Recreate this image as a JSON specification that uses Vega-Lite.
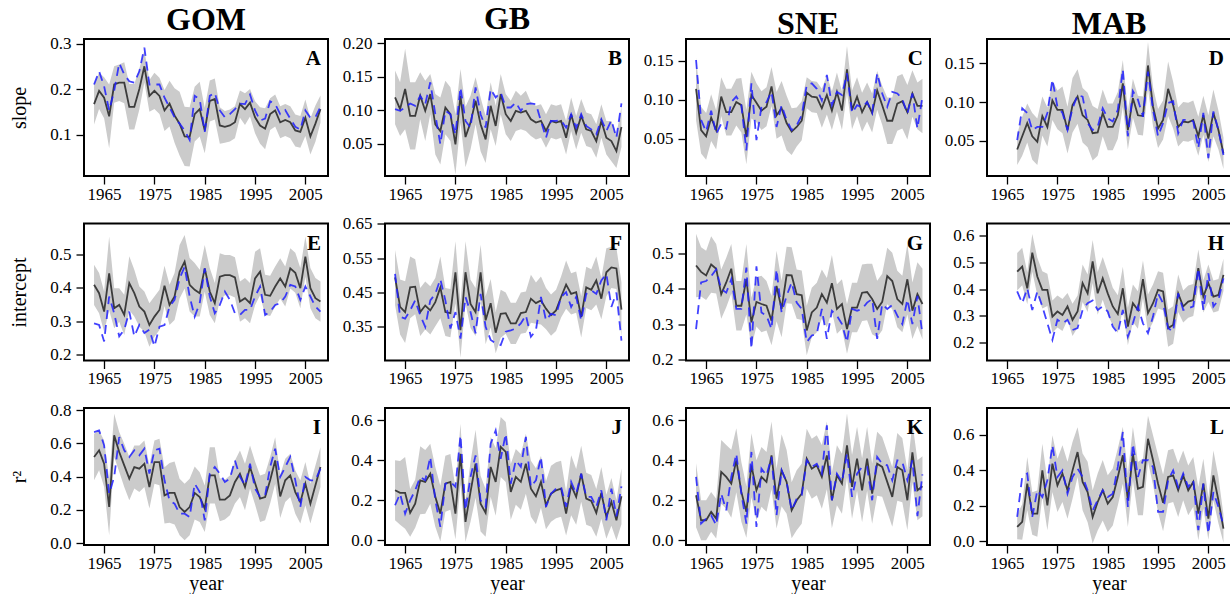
{
"$schema": "https://vega.github.io/schema/vega-lite/v6.json",
"padding": {"left": 8, "top": 2, "right": 0, "bottom": 0},
"datasets": {
"A": [
{"yr":1963,"m":0.167,"b":0.21,"e":0.045},{"yr":1964,"m":0.196,"b":0.239,"e":0.04},{"yr":1965,"m":0.181,"b":0.206,"e":0.045},{"yr":1966,"m":0.14,"b":0.153,"e":0.07},{"yr":1967,"m":0.21,"b":0.196,"e":0.04},{"yr":1968,"m":0.214,"b":0.257,"e":0.04},{"yr":1969,"m":0.214,"b":0.232,"e":0.045},{"yr":1970,"m":0.161,"b":0.217,"e":0.05},{"yr":1971,"m":0.161,"b":0.214,"e":0.05},{"yr":1972,"m":0.2,"b":0.239,"e":0.045},{"yr":1973,"m":0.25,"b":0.291,"e":0.035},{"yr":1974,"m":0.185,"b":0.21,"e":0.035},{"yr":1975,"m":0.196,"b":0.21,"e":0.04},{"yr":1976,"m":0.185,"b":0.21,"e":0.04},{"yr":1977,"m":0.153,"b":0.181,"e":0.045},{"yr":1978,"m":0.168,"b":0.16,"e":0.05},{"yr":1979,"m":0.142,"b":0.138,"e":0.06},{"yr":1980,"m":0.124,"b":0.124,"e":0.07},{"yr":1981,"m":0.096,"b":0.109,"e":0.065},{"yr":1982,"m":0.095,"b":0.088,"e":0.065},{"yr":1983,"m":0.145,"b":0.185,"e":0.06},{"yr":1984,"m":0.156,"b":0.178,"e":0.06},{"yr":1985,"m":0.109,"b":0.106,"e":0.05},{"yr":1986,"m":0.174,"b":0.185,"e":0.045},{"yr":1987,"m":0.178,"b":0.192,"e":0.045},{"yr":1988,"m":0.12,"b":0.153,"e":0.04},{"yr":1989,"m":0.117,"b":0.138,"e":0.035},{"yr":1990,"m":0.12,"b":0.145,"e":0.035},{"yr":1991,"m":0.127,"b":0.156,"e":0.035},{"yr":1992,"m":0.167,"b":0.168,"e":0.03},{"yr":1993,"m":0.156,"b":0.167,"e":0.035},{"yr":1994,"m":0.17,"b":0.188,"e":0.03},{"yr":1995,"m":0.138,"b":0.153,"e":0.035},{"yr":1996,"m":0.12,"b":0.131,"e":0.04},{"yr":1997,"m":0.113,"b":0.135,"e":0.045},{"yr":1998,"m":0.145,"b":0.173,"e":0.035},{"yr":1999,"m":0.153,"b":0.167,"e":0.035},{"yr":2000,"m":0.127,"b":0.145,"e":0.035},{"yr":2001,"m":0.132,"b":0.154,"e":0.035},{"yr":2002,"m":0.127,"b":0.135,"e":0.035},{"yr":2003,"m":0.109,"b":0.117,"e":0.035},{"yr":2004,"m":0.106,"b":0.111,"e":0.035},{"yr":2005,"m":0.137,"b":0.153,"e":0.04},{"yr":2006,"m":0.096,"b":0.137,"e":0.04},{"yr":2007,"m":0.124,"b":0.138,"e":0.04},{"yr":2008,"m":0.156,"b":0.161,"e":0.03}
],
"B": [
{"yr":1963,"m":0.119,"b":0.1015,"e":0.04},{"yr":1964,"m":0.1015,"b":0.099,"e":0.04},{"yr":1965,"m":0.1315,"b":0.104,"e":0.06},{"yr":1966,"m":0.0915,"b":0.11,"e":0.05},{"yr":1967,"m":0.0915,"b":0.1065,"e":0.05},{"yr":1968,"m":0.1215,"b":0.1215,"e":0.035},{"yr":1969,"m":0.099,"b":0.109,"e":0.045},{"yr":1970,"m":0.124,"b":0.1415,"e":0.03},{"yr":1971,"m":0.079,"b":0.094,"e":0.045},{"yr":1972,"m":0.069,"b":0.049,"e":0.05},{"yr":1973,"m":0.104,"b":0.099,"e":0.04},{"yr":1974,"m":0.094,"b":0.094,"e":0.04},{"yr":1975,"m":0.049,"b":0.064,"e":0.045},{"yr":1976,"m":0.1215,"b":0.134,"e":0.04},{"yr":1977,"m":0.06,"b":0.084,"e":0.045},{"yr":1978,"m":0.0815,"b":0.074,"e":0.04},{"yr":1979,"m":0.114,"b":0.134,"e":0.035},{"yr":1980,"m":0.079,"b":0.094,"e":0.04},{"yr":1981,"m":0.0565,"b":0.074,"e":0.035},{"yr":1982,"m":0.1065,"b":0.1315,"e":0.035},{"yr":1983,"m":0.0765,"b":0.119,"e":0.03},{"yr":1984,"m":0.124,"b":0.1265,"e":0.03},{"yr":1985,"m":0.094,"b":0.104,"e":0.03},{"yr":1986,"m":0.084,"b":0.104,"e":0.03},{"yr":1987,"m":0.099,"b":0.1115,"e":0.03},{"yr":1988,"m":0.0965,"b":0.099,"e":0.025},{"yr":1989,"m":0.099,"b":0.109,"e":0.03},{"yr":1990,"m":0.0865,"b":0.11,"e":0.025},{"yr":1991,"m":0.0815,"b":0.109,"e":0.025},{"yr":1992,"m":0.084,"b":0.084,"e":0.025},{"yr":1993,"m":0.069,"b":0.059,"e":0.025},{"yr":1994,"m":0.084,"b":0.084,"e":0.025},{"yr":1995,"m":0.0815,"b":0.084,"e":0.025},{"yr":1996,"m":0.084,"b":0.085,"e":0.025},{"yr":1997,"m":0.059,"b":0.074,"e":0.025},{"yr":1998,"m":0.094,"b":0.094,"e":0.025},{"yr":1999,"m":0.0665,"b":0.074,"e":0.025},{"yr":2000,"m":0.0915,"b":0.094,"e":0.025},{"yr":2001,"m":0.0715,"b":0.0765,"e":0.025},{"yr":2002,"m":0.069,"b":0.0715,"e":0.025},{"yr":2003,"m":0.054,"b":0.064,"e":0.025},{"yr":2004,"m":0.084,"b":0.0865,"e":0.025},{"yr":2005,"m":0.059,"b":0.069,"e":0.025},{"yr":2006,"m":0.054,"b":0.085,"e":0.03},{"yr":2007,"m":0.039,"b":0.059,"e":0.025},{"yr":2008,"m":0.075,"b":0.11,"e":0.03}
],
"C": [
{"yr":1963,"m":0.114,"b":0.151,"e":0.04},{"yr":1964,"m":0.061,"b":0.074,"e":0.03},{"yr":1965,"m":0.053,"b":0.059,"e":0.03},{"yr":1966,"m":0.077,"b":0.086,"e":0.03},{"yr":1967,"m":0.061,"b":0.056,"e":0.025},{"yr":1968,"m":0.104,"b":0.069,"e":0.025},{"yr":1969,"m":0.084,"b":0.063,"e":0.03},{"yr":1970,"m":0.084,"b":0.097,"e":0.03},{"yr":1971,"m":0.097,"b":0.104,"e":0.03},{"yr":1972,"m":0.093,"b":0.093,"e":0.035},{"yr":1973,"m":0.052,"b":0.035,"e":0.035},{"yr":1974,"m":0.106,"b":0.121,"e":0.03},{"yr":1975,"m":0.096,"b":0.048,"e":0.025},{"yr":1976,"m":0.086,"b":0.091,"e":0.025},{"yr":1977,"m":0.091,"b":0.097,"e":0.025},{"yr":1978,"m":0.117,"b":0.11,"e":0.025},{"yr":1979,"m":0.08,"b":0.065,"e":0.03},{"yr":1980,"m":0.089,"b":0.093,"e":0.035},{"yr":1981,"m":0.07,"b":0.074,"e":0.035},{"yr":1982,"m":0.059,"b":0.061,"e":0.03},{"yr":1983,"m":0.065,"b":0.067,"e":0.025},{"yr":1984,"m":0.073,"b":0.08,"e":0.025},{"yr":1985,"m":0.109,"b":0.119,"e":0.02},{"yr":1986,"m":0.104,"b":0.121,"e":0.02},{"yr":1987,"m":0.103,"b":0.114,"e":0.02},{"yr":1988,"m":0.089,"b":0.099,"e":0.025},{"yr":1989,"m":0.106,"b":0.132,"e":0.025},{"yr":1990,"m":0.086,"b":0.093,"e":0.025},{"yr":1991,"m":0.11,"b":0.11,"e":0.025},{"yr":1992,"m":0.086,"b":0.106,"e":0.025},{"yr":1993,"m":0.139,"b":0.134,"e":0.03},{"yr":1994,"m":0.087,"b":0.083,"e":0.025},{"yr":1995,"m":0.104,"b":0.093,"e":0.025},{"yr":1996,"m":0.084,"b":0.09,"e":0.025},{"yr":1997,"m":0.097,"b":0.097,"e":0.025},{"yr":1998,"m":0.083,"b":0.083,"e":0.025},{"yr":1999,"m":0.112,"b":0.134,"e":0.025},{"yr":2000,"m":0.093,"b":0.108,"e":0.025},{"yr":2001,"m":0.073,"b":0.091,"e":0.03},{"yr":2002,"m":0.073,"b":0.11,"e":0.03},{"yr":2003,"m":0.095,"b":0.108,"e":0.035},{"yr":2004,"m":0.098,"b":0.101,"e":0.035},{"yr":2005,"m":0.084,"b":0.082,"e":0.035},{"yr":2006,"m":0.108,"b":0.108,"e":0.03},{"yr":2007,"m":0.092,"b":0.063,"e":0.03},{"yr":2008,"m":0.092,"b":0.104,"e":0.035}
],
"D": [
{"yr":1967,"m":0.039,"b":0.051,"e":0.02},{"yr":1968,"m":0.056,"b":0.092,"e":0.025},{"yr":1969,"m":0.073,"b":0.086,"e":0.025},{"yr":1970,"m":0.056,"b":0.064,"e":0.03},{"yr":1971,"m":0.049,"b":0.068,"e":0.03},{"yr":1972,"m":0.082,"b":0.068,"e":0.025},{"yr":1973,"m":0.068,"b":0.086,"e":0.025},{"yr":1974,"m":0.102,"b":0.129,"e":0.025},{"yr":1975,"m":0.09,"b":0.094,"e":0.025},{"yr":1976,"m":0.09,"b":0.086,"e":0.03},{"yr":1977,"m":0.064,"b":0.064,"e":0.03},{"yr":1978,"m":0.096,"b":0.092,"e":0.035},{"yr":1979,"m":0.107,"b":0.109,"e":0.035},{"yr":1980,"m":0.083,"b":0.107,"e":0.035},{"yr":1981,"m":0.077,"b":0.073,"e":0.035},{"yr":1982,"m":0.06,"b":0.064,"e":0.035},{"yr":1983,"m":0.061,"b":0.068,"e":0.03},{"yr":1984,"m":0.086,"b":0.092,"e":0.03},{"yr":1985,"m":0.068,"b":0.079,"e":0.03},{"yr":1986,"m":0.068,"b":0.075,"e":0.03},{"yr":1987,"m":0.083,"b":0.09,"e":0.03},{"yr":1988,"m":0.124,"b":0.142,"e":0.03},{"yr":1989,"m":0.064,"b":0.056,"e":0.025},{"yr":1990,"m":0.105,"b":0.114,"e":0.025},{"yr":1991,"m":0.083,"b":0.103,"e":0.025},{"yr":1992,"m":0.082,"b":0.081,"e":0.025},{"yr":1993,"m":0.147,"b":0.139,"e":0.03},{"yr":1994,"m":0.094,"b":0.09,"e":0.025},{"yr":1995,"m":0.066,"b":0.056,"e":0.025},{"yr":1996,"m":0.077,"b":0.073,"e":0.025},{"yr":1997,"m":0.117,"b":0.099,"e":0.035},{"yr":1998,"m":0.096,"b":0.101,"e":0.03},{"yr":1999,"m":0.068,"b":0.06,"e":0.025},{"yr":2000,"m":0.075,"b":0.077,"e":0.025},{"yr":2001,"m":0.074,"b":0.077,"e":0.025},{"yr":2002,"m":0.077,"b":0.075,"e":0.025},{"yr":2003,"m":0.056,"b":0.041,"e":0.025},{"yr":2004,"m":0.083,"b":0.086,"e":0.025},{"yr":2005,"m":0.053,"b":0.028,"e":0.03},{"yr":2006,"m":0.086,"b":0.088,"e":0.03},{"yr":2007,"m":0.064,"b":0.064,"e":0.025},{"yr":2008,"m":0.034,"b":0.032,"e":0.02}
],
"E": [
{"yr":1963,"m":0.409,"b":0.294,"e":0.06},{"yr":1964,"m":0.384,"b":0.289,"e":0.06},{"yr":1965,"m":0.329,"b":0.24,"e":0.06},{"yr":1966,"m":0.443,"b":0.374,"e":0.11},{"yr":1967,"m":0.339,"b":0.324,"e":0.06},{"yr":1968,"m":0.349,"b":0.255,"e":0.05},{"yr":1969,"m":0.319,"b":0.275,"e":0.06},{"yr":1970,"m":0.414,"b":0.329,"e":0.08},{"yr":1971,"m":0.384,"b":0.255,"e":0.07},{"yr":1972,"m":0.344,"b":0.289,"e":0.06},{"yr":1973,"m":0.329,"b":0.265,"e":0.06},{"yr":1974,"m":0.289,"b":0.275,"e":0.065},{"yr":1975,"m":0.314,"b":0.225,"e":0.06},{"yr":1976,"m":0.334,"b":0.284,"e":0.06},{"yr":1977,"m":0.406,"b":0.289,"e":0.06},{"yr":1978,"m":0.349,"b":0.344,"e":0.06},{"yr":1979,"m":0.374,"b":0.364,"e":0.07},{"yr":1980,"m":0.448,"b":0.428,"e":0.08},{"yr":1981,"m":0.478,"b":0.463,"e":0.08},{"yr":1982,"m":0.409,"b":0.374,"e":0.08},{"yr":1983,"m":0.394,"b":0.314,"e":0.08},{"yr":1984,"m":0.384,"b":0.354,"e":0.07},{"yr":1985,"m":0.458,"b":0.458,"e":0.07},{"yr":1986,"m":0.389,"b":0.374,"e":0.07},{"yr":1987,"m":0.354,"b":0.324,"e":0.06},{"yr":1988,"m":0.433,"b":0.349,"e":0.07},{"yr":1989,"m":0.438,"b":0.389,"e":0.06},{"yr":1990,"m":0.438,"b":0.364,"e":0.06},{"yr":1991,"m":0.431,"b":0.324,"e":0.06},{"yr":1992,"m":0.359,"b":0.319,"e":0.06},{"yr":1993,"m":0.369,"b":0.334,"e":0.06},{"yr":1994,"m":0.354,"b":0.334,"e":0.06},{"yr":1995,"m":0.428,"b":0.374,"e":0.08},{"yr":1996,"m":0.448,"b":0.404,"e":0.07},{"yr":1997,"m":0.379,"b":0.319,"e":0.06},{"yr":1998,"m":0.376,"b":0.329,"e":0.06},{"yr":1999,"m":0.404,"b":0.349,"e":0.06},{"yr":2000,"m":0.428,"b":0.354,"e":0.06},{"yr":2001,"m":0.404,"b":0.374,"e":0.06},{"yr":2002,"m":0.458,"b":0.409,"e":0.06},{"yr":2003,"m":0.445,"b":0.404,"e":0.06},{"yr":2004,"m":0.399,"b":0.364,"e":0.06},{"yr":2005,"m":0.493,"b":0.404,"e":0.06},{"yr":2006,"m":0.399,"b":0.374,"e":0.06},{"yr":2007,"m":0.369,"b":0.344,"e":0.06},{"yr":2008,"m":0.359,"b":0.329,"e":0.06}
],
"F": [
{"yr":1963,"m":0.494,"b":0.504,"e":0.08},{"yr":1964,"m":0.408,"b":0.379,"e":0.08},{"yr":1965,"m":0.393,"b":0.374,"e":0.09},{"yr":1966,"m":0.465,"b":0.398,"e":0.09},{"yr":1967,"m":0.467,"b":0.427,"e":0.08},{"yr":1968,"m":0.393,"b":0.384,"e":0.07},{"yr":1969,"m":0.412,"b":0.35,"e":0.07},{"yr":1970,"m":0.398,"b":0.427,"e":0.07},{"yr":1971,"m":0.422,"b":0.446,"e":0.07},{"yr":1972,"m":0.465,"b":0.489,"e":0.09},{"yr":1973,"m":0.393,"b":0.427,"e":0.07},{"yr":1974,"m":0.39,"b":0.345,"e":0.07},{"yr":1975,"m":0.509,"b":0.393,"e":0.09},{"yr":1976,"m":0.34,"b":0.316,"e":0.08},{"yr":1977,"m":0.509,"b":0.437,"e":0.09},{"yr":1978,"m":0.417,"b":0.393,"e":0.07},{"yr":1979,"m":0.393,"b":0.331,"e":0.07},{"yr":1980,"m":0.509,"b":0.446,"e":0.08},{"yr":1981,"m":0.369,"b":0.35,"e":0.07},{"yr":1982,"m":0.419,"b":0.312,"e":0.07},{"yr":1983,"m":0.333,"b":0.302,"e":0.06},{"yr":1984,"m":0.388,"b":0.297,"e":0.07},{"yr":1985,"m":0.39,"b":0.336,"e":0.06},{"yr":1986,"m":0.36,"b":0.34,"e":0.06},{"yr":1987,"m":0.36,"b":0.345,"e":0.06},{"yr":1988,"m":0.39,"b":0.36,"e":0.06},{"yr":1989,"m":0.393,"b":0.384,"e":0.06},{"yr":1990,"m":0.432,"b":0.321,"e":0.07},{"yr":1991,"m":0.419,"b":0.34,"e":0.06},{"yr":1992,"m":0.427,"b":0.437,"e":0.07},{"yr":1993,"m":0.403,"b":0.369,"e":0.06},{"yr":1994,"m":0.384,"b":0.388,"e":0.06},{"yr":1995,"m":0.398,"b":0.384,"e":0.06},{"yr":1996,"m":0.437,"b":0.437,"e":0.06},{"yr":1997,"m":0.473,"b":0.451,"e":0.07},{"yr":1998,"m":0.446,"b":0.408,"e":0.06},{"yr":1999,"m":0.451,"b":0.437,"e":0.06},{"yr":2000,"m":0.379,"b":0.369,"e":0.06},{"yr":2001,"m":0.465,"b":0.446,"e":0.06},{"yr":2002,"m":0.458,"b":0.456,"e":0.06},{"yr":2003,"m":0.485,"b":0.446,"e":0.07},{"yr":2004,"m":0.432,"b":0.485,"e":0.06},{"yr":2005,"m":0.509,"b":0.504,"e":0.07},{"yr":2006,"m":0.523,"b":0.408,"e":0.06},{"yr":2007,"m":0.52,"b":0.45,"e":0.06},{"yr":2008,"m":0.4,"b":0.31,"e":0.08}
],
"G": [
{"yr":1963,"m":0.466,"b":0.286,"e":0.09},{"yr":1964,"m":0.448,"b":0.418,"e":0.07},{"yr":1965,"m":0.438,"b":0.422,"e":0.07},{"yr":1966,"m":0.469,"b":0.436,"e":0.08},{"yr":1967,"m":0.457,"b":0.455,"e":0.07},{"yr":1968,"m":0.385,"b":0.399,"e":0.07},{"yr":1969,"m":0.418,"b":0.389,"e":0.07},{"yr":1970,"m":0.457,"b":0.427,"e":0.07},{"yr":1971,"m":0.352,"b":0.343,"e":0.07},{"yr":1972,"m":0.352,"b":0.343,"e":0.07},{"yr":1973,"m":0.427,"b":0.46,"e":0.1},{"yr":1974,"m":0.305,"b":0.23,"e":0.07},{"yr":1975,"m":0.363,"b":0.464,"e":0.07},{"yr":1976,"m":0.357,"b":0.333,"e":0.08},{"yr":1977,"m":0.352,"b":0.324,"e":0.07},{"yr":1978,"m":0.31,"b":0.286,"e":0.07},{"yr":1979,"m":0.408,"b":0.455,"e":0.1},{"yr":1980,"m":0.343,"b":0.333,"e":0.08},{"yr":1981,"m":0.439,"b":0.38,"e":0.08},{"yr":1982,"m":0.438,"b":0.418,"e":0.08},{"yr":1983,"m":0.385,"b":0.361,"e":0.07},{"yr":1984,"m":0.382,"b":0.343,"e":0.07},{"yr":1985,"m":0.282,"b":0.249,"e":0.07},{"yr":1986,"m":0.333,"b":0.268,"e":0.07},{"yr":1987,"m":0.347,"b":0.272,"e":0.07},{"yr":1988,"m":0.385,"b":0.343,"e":0.07},{"yr":1989,"m":0.361,"b":0.258,"e":0.07},{"yr":1990,"m":0.416,"b":0.338,"e":0.08},{"yr":1991,"m":0.343,"b":0.324,"e":0.07},{"yr":1992,"m":0.357,"b":0.3,"e":0.07},{"yr":1993,"m":0.286,"b":0.249,"e":0.07},{"yr":1994,"m":0.347,"b":0.343,"e":0.07},{"yr":1995,"m":0.347,"b":0.338,"e":0.07},{"yr":1996,"m":0.389,"b":0.343,"e":0.08},{"yr":1997,"m":0.391,"b":0.361,"e":0.08},{"yr":1998,"m":0.371,"b":0.371,"e":0.1},{"yr":1999,"m":0.343,"b":0.258,"e":0.08},{"yr":2000,"m":0.363,"b":0.357,"e":0.08},{"yr":2001,"m":0.436,"b":0.343,"e":0.08},{"yr":2002,"m":0.422,"b":0.354,"e":0.08},{"yr":2003,"m":0.371,"b":0.324,"e":0.08},{"yr":2004,"m":0.357,"b":0.3,"e":0.08},{"yr":2005,"m":0.427,"b":0.37,"e":0.1},{"yr":2006,"m":0.338,"b":0.3,"e":0.08},{"yr":2007,"m":0.385,"b":0.38,"e":0.09},{"yr":2008,"m":0.357,"b":0.27,"e":0.1}
],
"H": [
{"yr":1967,"m":0.465,"b":0.391,"e":0.07},{"yr":1968,"m":0.484,"b":0.347,"e":0.07},{"yr":1969,"m":0.403,"b":0.403,"e":0.06},{"yr":1970,"m":0.536,"b":0.322,"e":0.07},{"yr":1971,"m":0.447,"b":0.391,"e":0.07},{"yr":1972,"m":0.397,"b":0.335,"e":0.07},{"yr":1973,"m":0.397,"b":0.272,"e":0.06},{"yr":1974,"m":0.297,"b":0.21,"e":0.06},{"yr":1975,"m":0.316,"b":0.285,"e":0.06},{"yr":1976,"m":0.303,"b":0.272,"e":0.06},{"yr":1977,"m":0.335,"b":0.285,"e":0.05},{"yr":1978,"m":0.285,"b":0.247,"e":0.06},{"yr":1979,"m":0.316,"b":0.254,"e":0.06},{"yr":1980,"m":0.422,"b":0.322,"e":0.07},{"yr":1981,"m":0.384,"b":0.347,"e":0.07},{"yr":1982,"m":0.503,"b":0.357,"e":0.08},{"yr":1983,"m":0.384,"b":0.322,"e":0.08},{"yr":1984,"m":0.44,"b":0.335,"e":0.08},{"yr":1985,"m":0.384,"b":0.316,"e":0.08},{"yr":1986,"m":0.335,"b":0.26,"e":0.07},{"yr":1987,"m":0.307,"b":0.235,"e":0.07},{"yr":1988,"m":0.403,"b":0.322,"e":0.08},{"yr":1989,"m":0.26,"b":0.222,"e":0.07},{"yr":1990,"m":0.347,"b":0.272,"e":0.07},{"yr":1991,"m":0.322,"b":0.335,"e":0.07},{"yr":1992,"m":0.437,"b":0.272,"e":0.07},{"yr":1993,"m":0.31,"b":0.235,"e":0.07},{"yr":1994,"m":0.347,"b":0.297,"e":0.07},{"yr":1995,"m":0.397,"b":0.384,"e":0.07},{"yr":1996,"m":0.391,"b":0.347,"e":0.07},{"yr":1997,"m":0.254,"b":0.254,"e":0.07},{"yr":1998,"m":0.266,"b":0.241,"e":0.07},{"yr":1999,"m":0.384,"b":0.384,"e":0.07},{"yr":2000,"m":0.335,"b":0.322,"e":0.06},{"yr":2001,"m":0.353,"b":0.328,"e":0.06},{"yr":2002,"m":0.359,"b":0.335,"e":0.06},{"yr":2003,"m":0.478,"b":0.478,"e":0.07},{"yr":2004,"m":0.372,"b":0.322,"e":0.06},{"yr":2005,"m":0.422,"b":0.459,"e":0.07},{"yr":2006,"m":0.372,"b":0.335,"e":0.06},{"yr":2007,"m":0.378,"b":0.359,"e":0.06},{"yr":2008,"m":0.453,"b":0.44,"e":0.06}
],
"I": [
{"yr":1963,"m":0.519,"b":0.669,"e":0.14},{"yr":1964,"m":0.559,"b":0.679,"e":0.12},{"yr":1965,"m":0.478,"b":0.589,"e":0.14},{"yr":1966,"m":0.217,"b":0.297,"e":0.17},{"yr":1967,"m":0.649,"b":0.398,"e":0.13},{"yr":1968,"m":0.549,"b":0.639,"e":0.12},{"yr":1969,"m":0.468,"b":0.559,"e":0.13},{"yr":1970,"m":0.388,"b":0.519,"e":0.13},{"yr":1971,"m":0.458,"b":0.559,"e":0.13},{"yr":1972,"m":0.448,"b":0.529,"e":0.14},{"yr":1973,"m":0.478,"b":0.569,"e":0.14},{"yr":1974,"m":0.338,"b":0.418,"e":0.13},{"yr":1975,"m":0.488,"b":0.559,"e":0.13},{"yr":1976,"m":0.488,"b":0.569,"e":0.14},{"yr":1977,"m":0.287,"b":0.378,"e":0.17},{"yr":1978,"m":0.302,"b":0.257,"e":0.18},{"yr":1979,"m":0.302,"b":0.237,"e":0.19},{"yr":1980,"m":0.217,"b":0.177,"e":0.17},{"yr":1981,"m":0.187,"b":0.177,"e":0.17},{"yr":1982,"m":0.217,"b":0.157,"e":0.17},{"yr":1983,"m":0.302,"b":0.358,"e":0.16},{"yr":1984,"m":0.277,"b":0.307,"e":0.15},{"yr":1985,"m":0.207,"b":0.137,"e":0.14},{"yr":1986,"m":0.408,"b":0.418,"e":0.17},{"yr":1987,"m":0.408,"b":0.458,"e":0.17},{"yr":1988,"m":0.261,"b":0.418,"e":0.13},{"yr":1989,"m":0.261,"b":0.368,"e":0.12},{"yr":1990,"m":0.287,"b":0.388,"e":0.12},{"yr":1991,"m":0.368,"b":0.498,"e":0.13},{"yr":1992,"m":0.418,"b":0.398,"e":0.14},{"yr":1993,"m":0.338,"b":0.348,"e":0.14},{"yr":1994,"m":0.458,"b":0.478,"e":0.13},{"yr":1995,"m":0.362,"b":0.328,"e":0.13},{"yr":1996,"m":0.267,"b":0.277,"e":0.14},{"yr":1997,"m":0.277,"b":0.287,"e":0.14},{"yr":1998,"m":0.378,"b":0.458,"e":0.14},{"yr":1999,"m":0.498,"b":0.569,"e":0.14},{"yr":2000,"m":0.281,"b":0.398,"e":0.13},{"yr":2001,"m":0.378,"b":0.458,"e":0.13},{"yr":2002,"m":0.408,"b":0.519,"e":0.13},{"yr":2003,"m":0.307,"b":0.378,"e":0.13},{"yr":2004,"m":0.247,"b":0.217,"e":0.13},{"yr":2005,"m":0.358,"b":0.398,"e":0.13},{"yr":2006,"m":0.237,"b":0.378,"e":0.12},{"yr":2007,"m":0.348,"b":0.378,"e":0.12},{"yr":2008,"m":0.458,"b":0.448,"e":0.12}
],
"J": [
{"yr":1963,"m":0.25,"b":0.175,"e":0.15},{"yr":1964,"m":0.237,"b":0.233,"e":0.16},{"yr":1965,"m":0.237,"b":0.133,"e":0.18},{"yr":1966,"m":0.137,"b":0.2,"e":0.12},{"yr":1967,"m":0.183,"b":0.25,"e":0.12},{"yr":1968,"m":0.3,"b":0.317,"e":0.17},{"yr":1969,"m":0.292,"b":0.3,"e":0.16},{"yr":1970,"m":0.333,"b":0.417,"e":0.15},{"yr":1971,"m":0.217,"b":0.2,"e":0.15},{"yr":1972,"m":0.133,"b":0.067,"e":0.14},{"yr":1973,"m":0.283,"b":0.283,"e":0.14},{"yr":1974,"m":0.292,"b":0.292,"e":0.14},{"yr":1975,"m":0.133,"b":0.267,"e":0.13},{"yr":1976,"m":0.433,"b":0.525,"e":0.15},{"yr":1977,"m":0.092,"b":0.15,"e":0.1},{"yr":1978,"m":0.242,"b":0.317,"e":0.15},{"yr":1979,"m":0.383,"b":0.425,"e":0.17},{"yr":1980,"m":0.183,"b":0.2,"e":0.14},{"yr":1981,"m":0.137,"b":0.167,"e":0.12},{"yr":1982,"m":0.367,"b":0.483,"e":0.15},{"yr":1983,"m":0.292,"b":0.55,"e":0.17},{"yr":1984,"m":0.467,"b":0.408,"e":0.15},{"yr":1985,"m":0.442,"b":0.533,"e":0.15},{"yr":1986,"m":0.242,"b":0.283,"e":0.14},{"yr":1987,"m":0.317,"b":0.4,"e":0.14},{"yr":1988,"m":0.292,"b":0.367,"e":0.14},{"yr":1989,"m":0.383,"b":0.517,"e":0.15},{"yr":1990,"m":0.258,"b":0.267,"e":0.14},{"yr":1991,"m":0.22,"b":0.3,"e":0.14},{"yr":1992,"m":0.292,"b":0.417,"e":0.13},{"yr":1993,"m":0.175,"b":0.167,"e":0.12},{"yr":1994,"m":0.233,"b":0.233,"e":0.14},{"yr":1995,"m":0.25,"b":0.258,"e":0.14},{"yr":1996,"m":0.258,"b":0.267,"e":0.14},{"yr":1997,"m":0.133,"b":0.167,"e":0.11},{"yr":1998,"m":0.275,"b":0.292,"e":0.15},{"yr":1999,"m":0.217,"b":0.233,"e":0.14},{"yr":2000,"m":0.333,"b":0.333,"e":0.14},{"yr":2001,"m":0.208,"b":0.217,"e":0.13},{"yr":2002,"m":0.197,"b":0.217,"e":0.13},{"yr":2003,"m":0.137,"b":0.167,"e":0.12},{"yr":2004,"m":0.237,"b":0.25,"e":0.13},{"yr":2005,"m":0.117,"b":0.1,"e":0.11},{"yr":2006,"m":0.192,"b":0.258,"e":0.12},{"yr":2007,"m":0.1,"b":0.12,"e":0.1},{"yr":2008,"m":0.22,"b":0.27,"e":0.14}
],
"K": [
{"yr":1963,"m":0.225,"b":0.317,"e":0.16},{"yr":1964,"m":0.1,"b":0.083,"e":0.1},{"yr":1965,"m":0.1,"b":0.108,"e":0.1},{"yr":1966,"m":0.142,"b":0.125,"e":0.1},{"yr":1967,"m":0.108,"b":0.075,"e":0.1},{"yr":1968,"m":0.342,"b":0.233,"e":0.16},{"yr":1969,"m":0.317,"b":0.15,"e":0.16},{"yr":1970,"m":0.283,"b":0.317,"e":0.17},{"yr":1971,"m":0.4,"b":0.433,"e":0.16},{"yr":1972,"m":0.242,"b":0.233,"e":0.15},{"yr":1973,"m":0.142,"b":0.083,"e":0.13},{"yr":1974,"m":0.375,"b":0.442,"e":0.16},{"yr":1975,"m":0.25,"b":0.067,"e":0.15},{"yr":1976,"m":0.317,"b":0.358,"e":0.15},{"yr":1977,"m":0.292,"b":0.325,"e":0.15},{"yr":1978,"m":0.425,"b":0.417,"e":0.17},{"yr":1979,"m":0.208,"b":0.125,"e":0.15},{"yr":1980,"m":0.35,"b":0.35,"e":0.18},{"yr":1981,"m":0.292,"b":0.292,"e":0.16},{"yr":1982,"m":0.15,"b":0.15,"e":0.14},{"yr":1983,"m":0.2,"b":0.208,"e":0.15},{"yr":1984,"m":0.233,"b":0.225,"e":0.15},{"yr":1985,"m":0.408,"b":0.4,"e":0.15},{"yr":1986,"m":0.358,"b":0.367,"e":0.15},{"yr":1987,"m":0.375,"b":0.383,"e":0.15},{"yr":1988,"m":0.317,"b":0.333,"e":0.16},{"yr":1989,"m":0.425,"b":0.575,"e":0.17},{"yr":1990,"m":0.2,"b":0.2,"e":0.14},{"yr":1991,"m":0.325,"b":0.333,"e":0.15},{"yr":1992,"m":0.283,"b":0.292,"e":0.15},{"yr":1993,"m":0.475,"b":0.433,"e":0.16},{"yr":1994,"m":0.267,"b":0.217,"e":0.16},{"yr":1995,"m":0.408,"b":0.333,"e":0.16},{"yr":1996,"m":0.25,"b":0.367,"e":0.16},{"yr":1997,"m":0.408,"b":0.367,"e":0.16},{"yr":1998,"m":0.233,"b":0.2,"e":0.15},{"yr":1999,"m":0.383,"b":0.417,"e":0.16},{"yr":2000,"m":0.367,"b":0.383,"e":0.15},{"yr":2001,"m":0.292,"b":0.375,"e":0.15},{"yr":2002,"m":0.217,"b":0.3,"e":0.15},{"yr":2003,"m":0.367,"b":0.4,"e":0.17},{"yr":2004,"m":0.35,"b":0.392,"e":0.16},{"yr":2005,"m":0.2,"b":0.3,"e":0.15},{"yr":2006,"m":0.44,"b":0.4,"e":0.15},{"yr":2007,"m":0.25,"b":0.12,"e":0.15},{"yr":2008,"m":0.27,"b":0.33,"e":0.15}
],
"L": [
{"yr":1967,"m":0.081,"b":0.137,"e":0.07},{"yr":1968,"m":0.109,"b":0.362,"e":0.1},{"yr":1969,"m":0.324,"b":0.381,"e":0.15},{"yr":1970,"m":0.156,"b":0.137,"e":0.12},{"yr":1971,"m":0.156,"b":0.287,"e":0.13},{"yr":1972,"m":0.399,"b":0.249,"e":0.15},{"yr":1973,"m":0.202,"b":0.343,"e":0.14},{"yr":1974,"m":0.437,"b":0.54,"e":0.16},{"yr":1975,"m":0.315,"b":0.362,"e":0.15},{"yr":1976,"m":0.381,"b":0.399,"e":0.16},{"yr":1977,"m":0.287,"b":0.268,"e":0.16},{"yr":1978,"m":0.399,"b":0.362,"e":0.16},{"yr":1979,"m":0.502,"b":0.409,"e":0.14},{"yr":1980,"m":0.334,"b":0.362,"e":0.16},{"yr":1981,"m":0.277,"b":0.287,"e":0.17},{"yr":1982,"m":0.137,"b":0.174,"e":0.15},{"yr":1983,"m":0.221,"b":0.231,"e":0.16},{"yr":1984,"m":0.287,"b":0.287,"e":0.17},{"yr":1985,"m":0.212,"b":0.249,"e":0.16},{"yr":1986,"m":0.249,"b":0.268,"e":0.16},{"yr":1987,"m":0.362,"b":0.418,"e":0.16},{"yr":1988,"m":0.484,"b":0.615,"e":0.16},{"yr":1989,"m":0.231,"b":0.193,"e":0.15},{"yr":1990,"m":0.493,"b":0.549,"e":0.15},{"yr":1991,"m":0.296,"b":0.362,"e":0.15},{"yr":1992,"m":0.306,"b":0.456,"e":0.16},{"yr":1993,"m":0.577,"b":0.456,"e":0.13},{"yr":1994,"m":0.456,"b":0.418,"e":0.14},{"yr":1995,"m":0.324,"b":0.165,"e":0.16},{"yr":1996,"m":0.216,"b":0.165,"e":0.16},{"yr":1997,"m":0.362,"b":0.343,"e":0.15},{"yr":1998,"m":0.371,"b":0.399,"e":0.15},{"yr":1999,"m":0.287,"b":0.306,"e":0.15},{"yr":2000,"m":0.371,"b":0.381,"e":0.14},{"yr":2001,"m":0.287,"b":0.306,"e":0.14},{"yr":2002,"m":0.334,"b":0.343,"e":0.14},{"yr":2003,"m":0.156,"b":0.062,"e":0.15},{"yr":2004,"m":0.324,"b":0.324,"e":0.14},{"yr":2005,"m":0.128,"b":0.043,"e":0.12},{"yr":2006,"m":0.371,"b":0.277,"e":0.14},{"yr":2007,"m":0.231,"b":0.193,"e":0.13},{"yr":2008,"m":0.071,"b":0.09,"e":0.08}
]
},
"columns": 4,
"bounds": "flush",
"spacing": {"row": 47.5, "column": 57},
"concat": [
{"data":{"name":"A"},"width":244,"height":137,"title":"GOM","layer":[
{"mark":{"type":"errorband","band":{"color":"#cbcbcb","opacity":1}},"encoding":{"x":{"field":"yr","type":"quantitative","scale":{"domain":[1961,2009.5],"nice":false,"zero":false},"axis":{"values":[1965,1975,1985,1995,2005],"format":"d","title":null,"tickCount":10}},"y":{"field":"m","type":"quantitative","scale":{"domain":[0.009,0.31],"nice":false,"zero":false},"axis":{"values":[0.1,0.2,0.3],"format":".1f","title":"slope","labelOverlap":false,"tickCount":10}},"yError":{"field":"e"}}},
{"mark":{"type":"line","color":"#3c3c3c","strokeWidth":1.8},"encoding":{"x":{"field":"yr","type":"quantitative"},"y":{"field":"m","type":"quantitative"}}},
{"mark":{"type":"line","color":"#2020ff","strokeWidth":1.8,"strokeDash":[9,6],"opacity":0.85},"encoding":{"x":{"field":"yr","type":"quantitative"},"y":{"field":"b","type":"quantitative"}}},
{"data":{"values":[{"lab":"A"}]},"mark":{"type":"text","align":"right","baseline":"alphabetic","dx":-7,"dy":26,"fontSize":21,"fontWeight":"bold"},"encoding":{"text":{"field":"lab"},"x":{"datum":2009.5},"y":{"datum":0.31}}}
]},
{"data":{"name":"B"},"width":244,"height":137,"title":"GB","layer":[
{"mark":{"type":"errorband","band":{"color":"#cbcbcb","opacity":1}},"encoding":{"x":{"field":"yr","type":"quantitative","scale":{"domain":[1961,2009.5],"nice":false,"zero":false},"axis":{"values":[1965,1975,1985,1995,2005],"format":"d","title":null,"tickCount":10}},"y":{"field":"m","type":"quantitative","scale":{"domain":[0.002,0.206],"nice":false,"zero":false},"axis":{"values":[0.05,0.1,0.15,0.2],"format":".2f","title":null,"labelOverlap":false,"tickCount":10}},"yError":{"field":"e"}}},
{"mark":{"type":"line","color":"#3c3c3c","strokeWidth":1.8},"encoding":{"x":{"field":"yr","type":"quantitative"},"y":{"field":"m","type":"quantitative"}}},
{"mark":{"type":"line","color":"#2020ff","strokeWidth":1.8,"strokeDash":[9,6],"opacity":0.85},"encoding":{"x":{"field":"yr","type":"quantitative"},"y":{"field":"b","type":"quantitative"}}},
{"data":{"values":[{"lab":"B"}]},"mark":{"type":"text","align":"right","baseline":"alphabetic","dx":-7,"dy":26,"fontSize":21,"fontWeight":"bold"},"encoding":{"text":{"field":"lab"},"x":{"datum":2009.5},"y":{"datum":0.206}}}
]},
{"data":{"name":"C"},"width":244,"height":137,"title":"SNE","layer":[
{"mark":{"type":"errorband","band":{"color":"#cbcbcb","opacity":1}},"encoding":{"x":{"field":"yr","type":"quantitative","scale":{"domain":[1961,2009.5],"nice":false,"zero":false},"axis":{"values":[1965,1975,1985,1995,2005],"format":"d","title":null,"tickCount":10}},"y":{"field":"m","type":"quantitative","scale":{"domain":[0.002,0.178],"nice":false,"zero":false},"axis":{"values":[0.05,0.1,0.15],"format":".2f","title":null,"labelOverlap":false,"tickCount":10}},"yError":{"field":"e"}}},
{"mark":{"type":"line","color":"#3c3c3c","strokeWidth":1.8},"encoding":{"x":{"field":"yr","type":"quantitative"},"y":{"field":"m","type":"quantitative"}}},
{"mark":{"type":"line","color":"#2020ff","strokeWidth":1.8,"strokeDash":[9,6],"opacity":0.85},"encoding":{"x":{"field":"yr","type":"quantitative"},"y":{"field":"b","type":"quantitative"}}},
{"data":{"values":[{"lab":"C"}]},"mark":{"type":"text","align":"right","baseline":"alphabetic","dx":-7,"dy":26,"fontSize":21,"fontWeight":"bold"},"encoding":{"text":{"field":"lab"},"x":{"datum":2009.5},"y":{"datum":0.178}}}
]},
{"data":{"name":"D"},"width":244,"height":137,"title":"MAB","layer":[
{"mark":{"type":"errorband","band":{"color":"#cbcbcb","opacity":1}},"encoding":{"x":{"field":"yr","type":"quantitative","scale":{"domain":[1961,2009.5],"nice":false,"zero":false},"axis":{"values":[1965,1975,1985,1995,2005],"format":"d","title":null,"tickCount":10}},"y":{"field":"m","type":"quantitative","scale":{"domain":[0.005,0.181],"nice":false,"zero":false},"axis":{"values":[0.05,0.1,0.15],"format":".2f","title":null,"labelOverlap":false,"tickCount":10}},"yError":{"field":"e"}}},
{"mark":{"type":"line","color":"#3c3c3c","strokeWidth":1.8},"encoding":{"x":{"field":"yr","type":"quantitative"},"y":{"field":"m","type":"quantitative"}}},
{"mark":{"type":"line","color":"#2020ff","strokeWidth":1.8,"strokeDash":[9,6],"opacity":0.85},"encoding":{"x":{"field":"yr","type":"quantitative"},"y":{"field":"b","type":"quantitative"}}},
{"data":{"values":[{"lab":"D"}]},"mark":{"type":"text","align":"right","baseline":"alphabetic","dx":-7,"dy":26,"fontSize":21,"fontWeight":"bold"},"encoding":{"text":{"field":"lab"},"x":{"datum":2009.5},"y":{"datum":0.181}}}
]},
{"data":{"name":"E"},"width":244,"height":137,"layer":[
{"mark":{"type":"errorband","band":{"color":"#cbcbcb","opacity":1}},"encoding":{"x":{"field":"yr","type":"quantitative","scale":{"domain":[1961,2009.5],"nice":false,"zero":false},"axis":{"values":[1965,1975,1985,1995,2005],"format":"d","title":null,"tickCount":10}},"y":{"field":"m","type":"quantitative","scale":{"domain":[0.183,0.592],"nice":false,"zero":false},"axis":{"values":[0.2,0.3,0.4,0.5],"format":".1f","title":"intercept","labelOverlap":false,"tickCount":10}},"yError":{"field":"e"}}},
{"mark":{"type":"line","color":"#3c3c3c","strokeWidth":1.8},"encoding":{"x":{"field":"yr","type":"quantitative"},"y":{"field":"m","type":"quantitative"}}},
{"mark":{"type":"line","color":"#2020ff","strokeWidth":1.8,"strokeDash":[9,6],"opacity":0.85},"encoding":{"x":{"field":"yr","type":"quantitative"},"y":{"field":"b","type":"quantitative"}}},
{"data":{"values":[{"lab":"E"}]},"mark":{"type":"text","align":"right","baseline":"alphabetic","dx":-7,"dy":26,"fontSize":21,"fontWeight":"bold"},"encoding":{"text":{"field":"lab"},"x":{"datum":2009.5},"y":{"datum":0.592}}}
]},
{"data":{"name":"F"},"width":244,"height":137,"layer":[
{"mark":{"type":"errorband","band":{"color":"#cbcbcb","opacity":1}},"encoding":{"x":{"field":"yr","type":"quantitative","scale":{"domain":[1961,2009.5],"nice":false,"zero":false},"axis":{"values":[1965,1975,1985,1995,2005],"format":"d","title":null,"tickCount":10}},"y":{"field":"m","type":"quantitative","scale":{"domain":[0.252,0.651],"nice":false,"zero":false},"axis":{"values":[0.35,0.45,0.55,0.65],"format":".2f","title":null,"labelOverlap":false,"tickCount":10}},"yError":{"field":"e"}}},
{"mark":{"type":"line","color":"#3c3c3c","strokeWidth":1.8},"encoding":{"x":{"field":"yr","type":"quantitative"},"y":{"field":"m","type":"quantitative"}}},
{"mark":{"type":"line","color":"#2020ff","strokeWidth":1.8,"strokeDash":[9,6],"opacity":0.85},"encoding":{"x":{"field":"yr","type":"quantitative"},"y":{"field":"b","type":"quantitative"}}},
{"data":{"values":[{"lab":"F"}]},"mark":{"type":"text","align":"right","baseline":"alphabetic","dx":-7,"dy":26,"fontSize":21,"fontWeight":"bold"},"encoding":{"text":{"field":"lab"},"x":{"datum":2009.5},"y":{"datum":0.651}}}
]},
{"data":{"name":"G"},"width":244,"height":137,"layer":[
{"mark":{"type":"errorband","band":{"color":"#cbcbcb","opacity":1}},"encoding":{"x":{"field":"yr","type":"quantitative","scale":{"domain":[1961,2009.5],"nice":false,"zero":false},"axis":{"values":[1965,1975,1985,1995,2005],"format":"d","title":null,"tickCount":10}},"y":{"field":"m","type":"quantitative","scale":{"domain":[0.197,0.585],"nice":false,"zero":false},"axis":{"values":[0.2,0.3,0.4,0.5],"format":".1f","title":null,"labelOverlap":false,"tickCount":10}},"yError":{"field":"e"}}},
{"mark":{"type":"line","color":"#3c3c3c","strokeWidth":1.8},"encoding":{"x":{"field":"yr","type":"quantitative"},"y":{"field":"m","type":"quantitative"}}},
{"mark":{"type":"line","color":"#2020ff","strokeWidth":1.8,"strokeDash":[9,6],"opacity":0.85},"encoding":{"x":{"field":"yr","type":"quantitative"},"y":{"field":"b","type":"quantitative"}}},
{"data":{"values":[{"lab":"G"}]},"mark":{"type":"text","align":"right","baseline":"alphabetic","dx":-7,"dy":26,"fontSize":21,"fontWeight":"bold"},"encoding":{"text":{"field":"lab"},"x":{"datum":2009.5},"y":{"datum":0.585}}}
]},
{"data":{"name":"H"},"width":244,"height":137,"layer":[
{"mark":{"type":"errorband","band":{"color":"#cbcbcb","opacity":1}},"encoding":{"x":{"field":"yr","type":"quantitative","scale":{"domain":[1961,2009.5],"nice":false,"zero":false},"axis":{"values":[1965,1975,1985,1995,2005],"format":"d","title":null,"tickCount":10}},"y":{"field":"m","type":"quantitative","scale":{"domain":[0.133,0.645],"nice":false,"zero":false},"axis":{"values":[0.2,0.3,0.4,0.5,0.6],"format":".1f","title":null,"labelOverlap":false,"tickCount":10}},"yError":{"field":"e"}}},
{"mark":{"type":"line","color":"#3c3c3c","strokeWidth":1.8},"encoding":{"x":{"field":"yr","type":"quantitative"},"y":{"field":"m","type":"quantitative"}}},
{"mark":{"type":"line","color":"#2020ff","strokeWidth":1.8,"strokeDash":[9,6],"opacity":0.85},"encoding":{"x":{"field":"yr","type":"quantitative"},"y":{"field":"b","type":"quantitative"}}},
{"data":{"values":[{"lab":"H"}]},"mark":{"type":"text","align":"right","baseline":"alphabetic","dx":-7,"dy":26,"fontSize":21,"fontWeight":"bold"},"encoding":{"text":{"field":"lab"},"x":{"datum":2009.5},"y":{"datum":0.645}}}
]},
{"data":{"name":"I"},"width":244,"height":137,"layer":[
{"mark":{"type":"errorband","band":{"color":"#cbcbcb","opacity":1}},"encoding":{"x":{"field":"yr","type":"quantitative","scale":{"domain":[1961,2009.5],"nice":false,"zero":false},"axis":{"values":[1965,1975,1985,1995,2005],"format":"d","title":"year","tickCount":10}},"y":{"field":"m","type":"quantitative","scale":{"domain":[-0.012,0.814],"nice":false,"zero":false},"axis":{"values":[0,0.2,0.4,0.6,0.8],"format":".1f","title":"r²","labelOverlap":false,"tickCount":10}},"yError":{"field":"e"}}},
{"mark":{"type":"line","color":"#3c3c3c","strokeWidth":1.8},"encoding":{"x":{"field":"yr","type":"quantitative"},"y":{"field":"m","type":"quantitative"}}},
{"mark":{"type":"line","color":"#2020ff","strokeWidth":1.8,"strokeDash":[9,6],"opacity":0.85},"encoding":{"x":{"field":"yr","type":"quantitative"},"y":{"field":"b","type":"quantitative"}}},
{"data":{"values":[{"lab":"I"}]},"mark":{"type":"text","align":"right","baseline":"alphabetic","dx":-7,"dy":26,"fontSize":21,"fontWeight":"bold"},"encoding":{"text":{"field":"lab"},"x":{"datum":2009.5},"y":{"datum":0.814}}}
]},
{"data":{"name":"J"},"width":244,"height":137,"layer":[
{"mark":{"type":"errorband","band":{"color":"#cbcbcb","opacity":1}},"encoding":{"x":{"field":"yr","type":"quantitative","scale":{"domain":[1961,2009.5],"nice":false,"zero":false},"axis":{"values":[1965,1975,1985,1995,2005],"format":"d","title":"year","tickCount":10}},"y":{"field":"m","type":"quantitative","scale":{"domain":[-0.024,0.662],"nice":false,"zero":false},"axis":{"values":[0,0.2,0.4,0.6],"format":".1f","title":null,"labelOverlap":false,"tickCount":10}},"yError":{"field":"e"}}},
{"mark":{"type":"line","color":"#3c3c3c","strokeWidth":1.8},"encoding":{"x":{"field":"yr","type":"quantitative"},"y":{"field":"m","type":"quantitative"}}},
{"mark":{"type":"line","color":"#2020ff","strokeWidth":1.8,"strokeDash":[9,6],"opacity":0.85},"encoding":{"x":{"field":"yr","type":"quantitative"},"y":{"field":"b","type":"quantitative"}}},
{"data":{"values":[{"lab":"J"}]},"mark":{"type":"text","align":"right","baseline":"alphabetic","dx":-7,"dy":26,"fontSize":21,"fontWeight":"bold"},"encoding":{"text":{"field":"lab"},"x":{"datum":2009.5},"y":{"datum":0.662}}}
]},
{"data":{"name":"K"},"width":244,"height":137,"layer":[
{"mark":{"type":"errorband","band":{"color":"#cbcbcb","opacity":1}},"encoding":{"x":{"field":"yr","type":"quantitative","scale":{"domain":[1961,2009.5],"nice":false,"zero":false},"axis":{"values":[1965,1975,1985,1995,2005],"format":"d","title":"year","tickCount":10}},"y":{"field":"m","type":"quantitative","scale":{"domain":[-0.024,0.662],"nice":false,"zero":false},"axis":{"values":[0,0.2,0.4,0.6],"format":".1f","title":null,"labelOverlap":false,"tickCount":10}},"yError":{"field":"e"}}},
{"mark":{"type":"line","color":"#3c3c3c","strokeWidth":1.8},"encoding":{"x":{"field":"yr","type":"quantitative"},"y":{"field":"m","type":"quantitative"}}},
{"mark":{"type":"line","color":"#2020ff","strokeWidth":1.8,"strokeDash":[9,6],"opacity":0.85},"encoding":{"x":{"field":"yr","type":"quantitative"},"y":{"field":"b","type":"quantitative"}}},
{"data":{"values":[{"lab":"K"}]},"mark":{"type":"text","align":"right","baseline":"alphabetic","dx":-7,"dy":26,"fontSize":21,"fontWeight":"bold"},"encoding":{"text":{"field":"lab"},"x":{"datum":2009.5},"y":{"datum":0.662}}}
]},
{"data":{"name":"L"},"width":244,"height":137,"layer":[
{"mark":{"type":"errorband","band":{"color":"#cbcbcb","opacity":1}},"encoding":{"x":{"field":"yr","type":"quantitative","scale":{"domain":[1961,2009.5],"nice":false,"zero":false},"axis":{"values":[1965,1975,1985,1995,2005],"format":"d","title":"year","tickCount":10}},"y":{"field":"m","type":"quantitative","scale":{"domain":[-0.021,0.75],"nice":false,"zero":false},"axis":{"values":[0,0.2,0.4,0.6],"format":".1f","title":null,"labelOverlap":false,"tickCount":10}},"yError":{"field":"e"}}},
{"mark":{"type":"line","color":"#3c3c3c","strokeWidth":1.8},"encoding":{"x":{"field":"yr","type":"quantitative"},"y":{"field":"m","type":"quantitative"}}},
{"mark":{"type":"line","color":"#2020ff","strokeWidth":1.8,"strokeDash":[9,6],"opacity":0.85},"encoding":{"x":{"field":"yr","type":"quantitative"},"y":{"field":"b","type":"quantitative"}}},
{"data":{"values":[{"lab":"L"}]},"mark":{"type":"text","align":"right","baseline":"alphabetic","dx":-7,"dy":26,"fontSize":21,"fontWeight":"bold"},"encoding":{"text":{"field":"lab"},"x":{"datum":2009.5},"y":{"datum":0.75}}}
]}
],
"config": {
"font": "Liberation Serif",
"view": {"stroke": "#000", "strokeWidth": 2},
"axis": {"grid": false, "domain": false, "labelFont": "Liberation Serif", "labelFontSize": 17, "labelColor": "#000", "tickColor": "#000", "tickSize": 8, "tickWidth": 1.3, "titleFont": "Liberation Serif", "titleFontSize": 20, "titleFontWeight": "normal", "titleColor": "#000", "labelOverlap": false},
"axisX": {"labelPadding": 2, "titlePadding": 2, "labelFlush": false},
"axisY": {"labelPadding": 5, "titlePadding": 20},
"title": {"font": "Liberation Serif", "fontSize": 32, "fontWeight": "bold", "color": "#000", "offset": -2, "frame": "group", "anchor": "middle"},
"text": {"color": "#000", "font": "Liberation Serif"}
}
}
